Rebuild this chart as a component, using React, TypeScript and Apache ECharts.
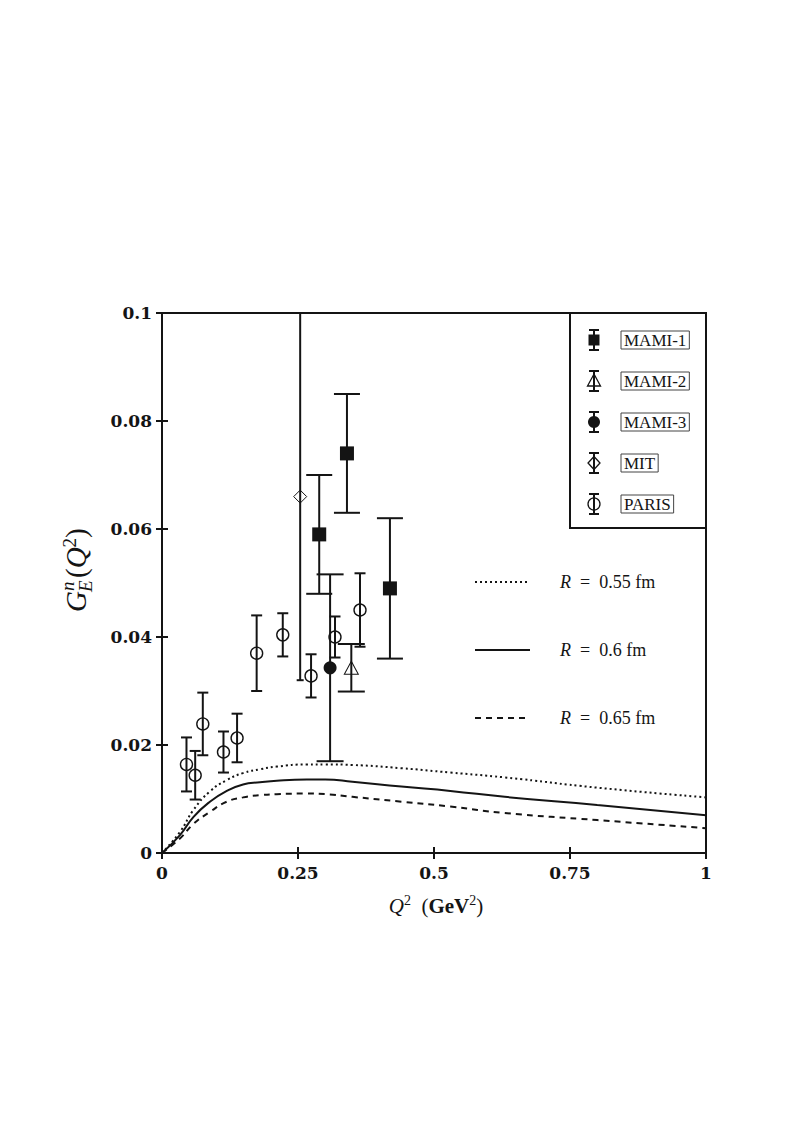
import React, { useEffect, useRef } from 'react';
import * as echarts from 'echarts';

// ---------- data ----------
const xTickLabels = ['0', '0.25', '0.5', '0.75', '1'];
const yTickLabels = ['0', '0.02', '0.04', '0.06', '0.08', '0.1'];

const curveQ = [0, 0.033, 0.058, 0.088, 0.119, 0.149, 0.18, 0.211, 0.266, 0.3, 0.35, 0.44, 0.53, 0.63, 0.8, 1.0];
const curveR055 = [0, 0.0039, 0.008, 0.0114, 0.0135, 0.0148, 0.0155, 0.016, 0.0164, 0.0164, 0.0163, 0.0157, 0.0149, 0.014, 0.0121, 0.0103];
const curveR060 = [0, 0.0033, 0.0067, 0.0095, 0.0115, 0.0127, 0.0131, 0.0134, 0.0136, 0.0136, 0.0132, 0.0123, 0.0115, 0.0104, 0.0089, 0.007];
const curveR065 = [0, 0.0027, 0.0054, 0.0076, 0.0095, 0.0103, 0.0107, 0.0109, 0.011, 0.0109, 0.0104, 0.0095, 0.0086, 0.0074, 0.0061, 0.0046];

const mami1Q = [0.289, 0.34, 0.419];
const mami1G = [0.059, 0.074, 0.049];
const mami1Err = [0.011, 0.011, 0.013];

const mami2Q = [0.348];
const mami2G = [0.0343];
const mami2Err = [0.0044];

const mami3Q = [0.309];
const mami3G = [0.0343];
const mami3Err = [0.0173];

const mitQ = [0.254];
const mitG = [0.066];
const mitErr = [0.034];

const parisQ = [0.045, 0.061, 0.075, 0.113, 0.138, 0.174, 0.222, 0.274, 0.318, 0.364];
const parisG = [0.0164, 0.0144, 0.0239, 0.0187, 0.0213, 0.037, 0.0404, 0.0328, 0.04, 0.045];
const parisErr = [0.005, 0.0045, 0.0058, 0.0038, 0.0045, 0.007, 0.004, 0.004, 0.0038, 0.0068];

const curveNames = ['R = 0.55 fm', 'R = 0.6 fm', 'R = 0.65 fm'];
const curveRadii = ['0.55', '0.6', '0.65'];
const legendNames = ['MAMI-1', 'MAMI-2', 'MAMI-3', 'MIT', 'PARIS'];

// ---------- style ----------
const INK = '#141414';
const SERIF = '"Liberation Serif", "DejaVu Serif", serif';
const TICKFONT = '"DejaVu Serif", serif';

const pts = (q: number[], g: number[]) => q.map((x, i) => [x, g[i]]);
const errData = (q: number[], g: number[], e: number[]) => q.map((x, i) => [x, g[i] - e[i], g[i] + e[i]]);

function errorSeries(name: string, data: number[][], cap: number) {
  return {
    type: 'custom',
    name: name + '-err',
    data,
    silent: true,
    z: 3,
    encode: { x: 0, y: [1, 2] },
    renderItem: (params: any, api: any) => {
      const x = api.value(0);
      const lo = api.value(1);
      const hi = api.value(2);
      const a = api.coord([x, lo]);
      const b = api.coord([x, hi]);
      const cs = params.coordSys;
      const top = Math.max(b[1], cs.y);
      const bot = Math.min(a[1], cs.y + cs.height);
      const style = { stroke: INK, lineWidth: 2, fill: null };
      const children: any[] = [
        { type: 'line', shape: { x1: a[0], y1: top, x2: a[0], y2: bot }, style },
      ];
      if (b[1] >= cs.y) {
        children.push({ type: 'line', shape: { x1: b[0] - cap / 2, y1: b[1], x2: b[0] + cap / 2, y2: b[1] }, style });
      }
      if (a[1] <= cs.y + cs.height) {
        children.push({ type: 'line', shape: { x1: a[0] - cap / 2, y1: a[1], x2: a[0] + cap / 2, y2: a[1] }, style });
      }
      return { type: 'group', children };
    },
  };
}

function legendMarker(i: number, cy: number) {
  const cx = 594;
  const s = { stroke: INK, lineWidth: 2 };
  const items: any[] = [
    { type: 'line', shape: { x1: cx, y1: cy - 10, x2: cx, y2: cy + 10 }, style: s, z: 101 },
    { type: 'line', shape: { x1: cx - 5, y1: cy - 10, x2: cx + 5, y2: cy - 10 }, style: s, z: 101 },
    { type: 'line', shape: { x1: cx - 5, y1: cy + 10, x2: cx + 5, y2: cy + 10 }, style: s, z: 101 },
  ];
  const open = { fill: 'rgba(0,0,0,0)', stroke: INK, lineWidth: 1.3 };
  if (i === 0) items.push({ type: 'rect', shape: { x: cx - 5.5, y: cy - 5.5, width: 11, height: 11 }, style: { fill: INK }, z: 102 });
  if (i === 1) items.push({ type: 'polygon', shape: { points: [[cx, cy - 7], [cx + 6.5, cy + 5], [cx - 6.5, cy + 5]] }, style: open, z: 102 });
  if (i === 2) items.push({ type: 'circle', shape: { cx, cy, r: 6 }, style: { fill: INK }, z: 102 });
  if (i === 3) items.push({ type: 'polygon', shape: { points: [[cx, cy - 6.5], [cx + 6, cy], [cx, cy + 6.5], [cx - 6, cy]] }, style: open, z: 102 });
  if (i === 4) items.push({ type: 'circle', shape: { cx, cy, r: 6 }, style: open, z: 102 });
  return items;
}

export default function App() {
  const ref = useRef<HTMLDivElement>(null);

  useEffect(() => {
    if (!ref.current) return;
    const chart = echarts.init(ref.current, null, { renderer: 'svg' });

    const axisLine = { show: true, lineStyle: { color: INK, width: 2 } };
    const axisTick = { show: true, inside: true, length: 6, lineStyle: { color: INK, width: 2 } };

    const legendRowsY = [340, 381, 422, 463, 504];
    const curveRowsY = [582, 650, 718];
    const curveDash: any[] = [[2, 3], null, [6, 5]];

    const graphic: any[] = [
      {
        type: 'rect',
        shape: { x: 570, y: 313, width: 136, height: 215 },
        style: { fill: '#fff', stroke: INK, lineWidth: 2 },
        z: 100,
      },
    ];
    legendNames.forEach((name, i) => {
      graphic.push(...legendMarker(i, legendRowsY[i]));
      graphic.push({
        type: 'text',
        x: 621,
        y: legendRowsY[i],
        z: 102,
        style: {
          text: name,
          fontFamily: SERIF,
          fontSize: 17,
          fill: INK,
          verticalAlign: 'middle',
          align: 'left',
          borderColor: '#444',
          borderWidth: 1,
          padding: [1, 3, 0, 3],
        },
      });
    });
    curveNames.forEach((name, i) => {
      const y = curveRowsY[i];
      graphic.push({
        type: 'line',
        shape: { x1: 475, y1: y, x2: 530, y2: y },
        style: { stroke: INK, lineWidth: 2, lineDash: curveDash[i] || undefined },
        z: 50,
      });
      graphic.push({
        type: 'text',
        x: 560,
        y,
        z: 50,
        style: {
          text: '{i|R}  =  ' + curveRadii[i] + ' fm',
          fontFamily: SERIF,
          fontSize: 18,
          fill: INK,
          verticalAlign: 'middle',
          align: 'left',
          rich: { i: { fontFamily: SERIF, fontStyle: 'italic', fontSize: 18, fill: INK } },
        },
      });
    });
    // x-axis title
    graphic.push({
      type: 'text',
      x: 436,
      y: 906,
      style: {
        text: '{i|Q}{s|2}  ({b|GeV}{s|2})',
        fontFamily: SERIF,
        fontSize: 21,
        lineHeight: 26,
        fill: INK,
        align: 'center',
        verticalAlign: 'middle',
        rich: {
          i: { fontFamily: SERIF, fontStyle: 'italic', fontSize: 21, lineHeight: 26 },
          b: { fontFamily: SERIF, fontWeight: 'bold', fontSize: 21, lineHeight: 26 },
          s: { fontFamily: SERIF, fontSize: 14, lineHeight: 16, verticalAlign: 'top' },
        },
      },
    });
    // y-axis title G_E^n(Q^2), rotated
    graphic.push({
      type: 'group',
      x: 76,
      y: 612,
      rotation: Math.PI / 2,
      children: [
        { type: 'text', x: 0, y: 0, style: { text: 'G', fontFamily: SERIF, fontStyle: 'italic', fontSize: 29, fill: INK, verticalAlign: 'middle', align: 'left' } },
        { type: 'text', x: 21, y: -9, style: { text: 'n', fontFamily: SERIF, fontStyle: 'italic', fontSize: 19, fill: INK, verticalAlign: 'middle', align: 'left' } },
        { type: 'text', x: 20, y: 9, style: { text: 'E', fontFamily: SERIF, fontStyle: 'italic', fontSize: 19, fill: INK, verticalAlign: 'middle', align: 'left' } },
        {
          type: 'text',
          x: 34,
          y: 0,
          style: {
            text: '({i|Q}{s|2})',
            fontFamily: SERIF,
            fontSize: 29,
            lineHeight: 33,
            fill: INK,
            verticalAlign: 'middle',
            align: 'left',
            rich: {
              i: { fontFamily: SERIF, fontStyle: 'italic', fontSize: 29, lineHeight: 33 },
              s: { fontFamily: SERIF, fontSize: 19, lineHeight: 20, verticalAlign: 'top' },
            },
          },
        },
      ],
    });

    const open = (w: number) => ({ color: 'rgba(0,0,0,0)', borderColor: INK, borderWidth: w, opacity: 1 });
    const curveSeries = (name: string, ys: number[], type: any) => ({
      type: 'line',
      name,
      data: pts(curveQ, ys),
      smooth: 0.5,
      showSymbol: false,
      symbol: 'none',
      lineStyle: { color: INK, width: 2, type },
      z: 2,
      silent: true,
    });

    chart.setOption({
      animation: false,
      backgroundColor: '#fff',
      grid: {
        left: 162,
        top: 313,
        right: 104,
        bottom: 291,
        show: true,
        borderColor: INK,
        borderWidth: 2,
        backgroundColor: 'transparent',
      },
      xAxis: [
        {
          type: 'value',
          min: 0,
          max: 1,
          interval: 0.25,
          position: 'bottom',
          axisLine,
          axisTick,
          splitLine: { show: false },
          axisLabel: {
            margin: 11,
            color: INK,
            fontFamily: TICKFONT,
            fontWeight: 'bold',
            fontSize: 17,
            formatter: (v: number) => xTickLabels[Math.round(v / 0.25)] ?? '',
          },
        },
        {
          type: 'value',
          min: 0,
          max: 1,
          interval: 0.25,
          position: 'top',
          axisLine,
          axisTick,
          splitLine: { show: false },
          axisLabel: { show: false },
        },
      ],
      yAxis: [
        {
          type: 'value',
          min: 0,
          max: 0.1,
          interval: 0.02,
          position: 'left',
          axisLine,
          axisTick,
          splitLine: { show: false },
          axisLabel: {
            margin: 10,
            color: INK,
            fontFamily: TICKFONT,
            fontWeight: 'bold',
            fontSize: 17,
            formatter: (v: number) => yTickLabels[Math.round(v / 0.02)] ?? '',
          },
        },
        {
          type: 'value',
          min: 0,
          max: 0.1,
          interval: 0.02,
          position: 'right',
          axisLine,
          axisTick,
          splitLine: { show: false },
          axisLabel: { show: false },
        },
      ],
      series: [
        curveSeries(curveNames[0], curveR055, [2, 3]),
        curveSeries(curveNames[1], curveR060, 'solid'),
        curveSeries(curveNames[2], curveR065, [6, 5]),
        errorSeries('MAMI-1', errData(mami1Q, mami1G, mami1Err), 26),
        errorSeries('MAMI-2', errData(mami2Q, mami2G, mami2Err), 27),
        errorSeries('MAMI-3', errData(mami3Q, mami3G, mami3Err), 27),
        errorSeries('MIT', errData(mitQ, mitG, mitErr), 7),
        errorSeries('PARIS', errData(parisQ, parisG, parisErr), 11),
        { type: 'scatter', name: 'MAMI-1', data: pts(mami1Q, mami1G), symbol: 'rect', symbolSize: 14, itemStyle: { color: INK, opacity: 1 }, z: 4 },
        { type: 'scatter', name: 'MAMI-2', data: pts(mami2Q, mami2G), symbol: 'triangle', symbolSize: [14, 13], itemStyle: open(1), z: 4 },
        { type: 'scatter', name: 'MAMI-3', data: pts(mami3Q, mami3G), symbol: 'circle', symbolSize: 13, itemStyle: { color: INK, opacity: 1 }, z: 4 },
        { type: 'scatter', name: 'MIT', data: pts(mitQ, mitG), symbol: 'diamond', symbolSize: [13, 13], itemStyle: open(1), z: 4 },
        { type: 'scatter', name: 'PARIS', data: pts(parisQ, parisG), symbol: 'circle', symbolSize: 12, itemStyle: open(1.4), z: 4 },
      ],
      graphic,
    });

    return () => chart.dispose();
  }, []);

  return (
    <div
      ref={ref}
      style={{ position: 'absolute', left: 0, top: 0, width: 810, height: 1144, background: '#fff' }}
    />
  );
}
